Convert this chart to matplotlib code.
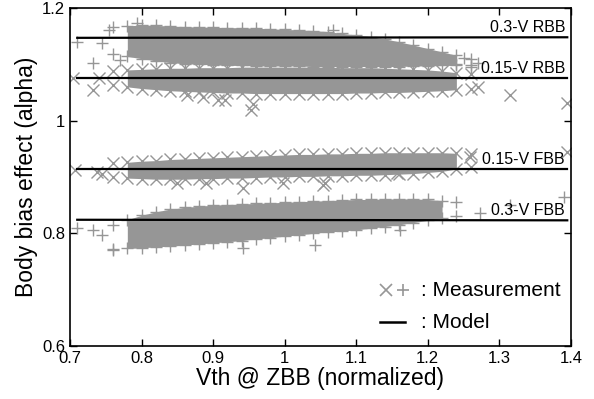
import matplotlib
matplotlib.use("Agg")
import matplotlib.pyplot as plt

plt.rcParams["font.family"] = ["Liberation Sans", "DejaVu Sans"]

GRAY = "#969696"

# ── measurement clouds: dense core read off as lower/upper edges ──────────────
# 0.3-V RBB ('+')
rbb03_x = [0.76, 0.78, 0.80, 0.82, 0.84, 0.86, 0.88, 0.90, 0.92, 0.94, 0.96, 0.98, 1.00,
           1.02, 1.04, 1.06, 1.08, 1.10, 1.12, 1.14, 1.16, 1.18, 1.20, 1.22, 1.24, 1.26]
rbb03_hi = [1.166, 1.168, 1.170, 1.169, 1.168, 1.167, 1.166, 1.166, 1.165, 1.165, 1.164, 1.163, 1.162,
            1.161, 1.160, 1.158, 1.155, 1.152, 1.149, 1.145, 1.140, 1.134, 1.128, 1.122, 1.116, 1.110]
rbb03_lo = [1.118, 1.114, 1.110, 1.106, 1.103, 1.101, 1.100, 1.099, 1.098, 1.098, 1.097, 1.097, 1.097,
            1.097, 1.096, 1.096, 1.096, 1.096, 1.096, 1.096, 1.096, 1.097, 1.097, 1.098, 1.098, 1.099]
rbb03_out_x = [0.71, 0.745, 0.755, 0.732, 0.77, 0.794, 1.067, 1.22, 1.24, 1.25, 1.26, 1.27]
rbb03_out_y = [1.140, 1.138, 1.161, 1.102, 1.108, 1.173, 1.161, 1.110, 1.100, 1.112, 1.095, 1.102]

# 0.15-V RBB ('x')
rbb015_x = rbb03_x
rbb015_hi = [1.088, 1.090, 1.091, 1.092, 1.093, 1.093, 1.094, 1.094, 1.094, 1.095, 1.095, 1.095, 1.095,
             1.095, 1.095, 1.095, 1.094, 1.094, 1.094, 1.093, 1.092, 1.091, 1.090, 1.088, 1.085, 1.082]
rbb015_lo = [1.064, 1.060, 1.057, 1.055, 1.053, 1.052, 1.051, 1.050, 1.049, 1.049, 1.048, 1.048, 1.048,
             1.048, 1.048, 1.048, 1.048, 1.049, 1.049, 1.050, 1.050, 1.051, 1.052, 1.053, 1.055, 1.057]
rbb015_out_x = [0.704, 0.732, 0.74, 0.863, 0.886, 0.907, 0.917, 0.953, 0.955, 1.27, 1.315, 1.394]
rbb015_out_y = [1.076, 1.054, 1.076, 1.046, 1.042, 1.037, 1.036, 1.019, 1.030, 1.060, 1.046, 1.031]

# 0.15-V FBB ('x')
fbb015_x = rbb03_x
fbb015_hi = [0.924, 0.926, 0.928, 0.929, 0.931, 0.932, 0.933, 0.934, 0.935, 0.936, 0.937, 0.938, 0.939,
             0.940, 0.940, 0.941, 0.941, 0.942, 0.942, 0.943, 0.943, 0.943, 0.943, 0.943, 0.942, 0.940]
fbb015_lo = [0.900, 0.898, 0.897, 0.896, 0.896, 0.896, 0.897, 0.897, 0.898, 0.898, 0.899, 0.900, 0.900,
             0.901, 0.901, 0.902, 0.902, 0.903, 0.903, 0.904, 0.905, 0.906, 0.908, 0.910, 0.914, 0.918]
fbb015_out_x = [0.707, 0.737, 0.745, 0.85, 0.89, 0.942, 0.998, 1.054, 1.056, 1.157, 1.259, 1.394]
fbb015_out_y = [0.912, 0.909, 0.906, 0.889, 0.889, 0.880, 0.889, 0.886, 0.889, 0.907, 0.936, 0.945]

# 0.3-V FBB ('+')
fbb03_x = rbb03_x[:-1]
fbb03_hi = [0.815, 0.824, 0.832, 0.838, 0.843, 0.846, 0.848, 0.850, 0.851, 0.852, 0.853, 0.854, 0.855,
            0.856, 0.857, 0.858, 0.859, 0.860, 0.860, 0.861, 0.861, 0.861, 0.860, 0.858, 0.855]
fbb03_lo = [0.772, 0.773, 0.774, 0.776, 0.777, 0.779, 0.781, 0.783, 0.785, 0.787, 0.790, 0.792, 0.795,
            0.797, 0.800, 0.802, 0.804, 0.806, 0.809, 0.812, 0.815, 0.819, 0.823, 0.827, 0.831]
fbb03_out_x = [0.71, 0.732, 0.745, 0.76, 0.942, 1.042, 1.161, 1.273, 1.315, 1.39]
fbb03_out_y = [0.810, 0.806, 0.797, 0.770, 0.774, 0.779, 0.806, 0.836, 0.850, 0.864]

# ── model lines ───────────────────────────────────────────────────────────────
model_x = [0.71, 1.395]
model_lines = {
    "0.3-V RBB": [1.147, 1.148],
    "0.15-V RBB": [1.076, 1.076],
    "0.15-V FBB": [0.914, 0.914],
    "0.3-V FBB": [0.824, 0.823],
}

x_ticks = [0.7, 0.8, 0.9, 1.0, 1.1, 1.2, 1.3, 1.4]
x_tick_labels = ["0.7", "0.8", "0.9", "1", "1.1", "1.2", "1.3", "1.4"]
y_ticks = [0.6, 0.8, 1.0, 1.2]
y_tick_labels = ["0.6", "0.8", "1", "1.2"]


def draw_cloud(ax, x, lo, hi, out_x, out_y, marker):
    # solid core only between the inner edge points, so the ends stay ragged
    ax.fill_between(x[1:-1], lo[1:-1], hi[1:-1], color=GRAY, lw=0, zorder=1)
    kw = dict(ls="none", marker=marker, ms=8, mew=1.0, color=GRAY, zorder=2)
    ax.plot(x, hi, **kw)
    ax.plot(x, lo, **kw)
    ax.plot(out_x, out_y, **kw)


fig = plt.figure(figsize=(5.94, 3.99), dpi=100)
ax = fig.add_axes([0.118, 0.133, 0.843, 0.847])

draw_cloud(ax, rbb03_x, rbb03_lo, rbb03_hi, rbb03_out_x, rbb03_out_y, "+")
draw_cloud(ax, rbb015_x, rbb015_lo, rbb015_hi, rbb015_out_x, rbb015_out_y, "x")
draw_cloud(ax, fbb015_x, fbb015_lo, fbb015_hi, fbb015_out_x, fbb015_out_y, "x")
draw_cloud(ax, fbb03_x, fbb03_lo, fbb03_hi, fbb03_out_x, fbb03_out_y, "+")

for name, ys in model_lines.items():
    ax.plot(model_x, ys, color="black", lw=1.6, zorder=3)
    ax.text(model_x[1] - 0.003, ys[1] + 0.004, name, ha="right", va="bottom",
            fontsize=11.5, zorder=4)

ax.set_xlim(0.7, 1.4)
ax.set_ylim(0.6, 1.2)
ax.set_xticks(x_ticks, x_tick_labels)
ax.set_yticks(y_ticks, y_tick_labels)
ax.tick_params(direction="in", top=True, right=True, length=5, width=1, labelsize=12)
for s in ax.spines.values():
    s.set_linewidth(1.2)
ax.set_xlabel("Vth @ ZBB (normalized)", fontsize=16.5, labelpad=1)
ax.set_ylabel("Body bias effect (alpha)", fontsize=16.5, labelpad=3)

# hand-drawn key in the lower right
ax.plot([0.630], [0.165], transform=ax.transAxes, marker="x", ms=9, mew=1.2,
        color=GRAY, ls="none")
ax.plot([0.665], [0.165], transform=ax.transAxes, marker="+", ms=9, mew=1.2,
        color=GRAY, ls="none")
ax.text(0.700, 0.165, ": Measurement", transform=ax.transAxes, va="center", fontsize=15)
ax.plot([0.618, 0.668], [0.070, 0.070], transform=ax.transAxes, color="black", lw=1.8)
ax.text(0.700, 0.070, ": Model", transform=ax.transAxes, va="center", fontsize=15)

fig.savefig("out.png", dpi=100)
